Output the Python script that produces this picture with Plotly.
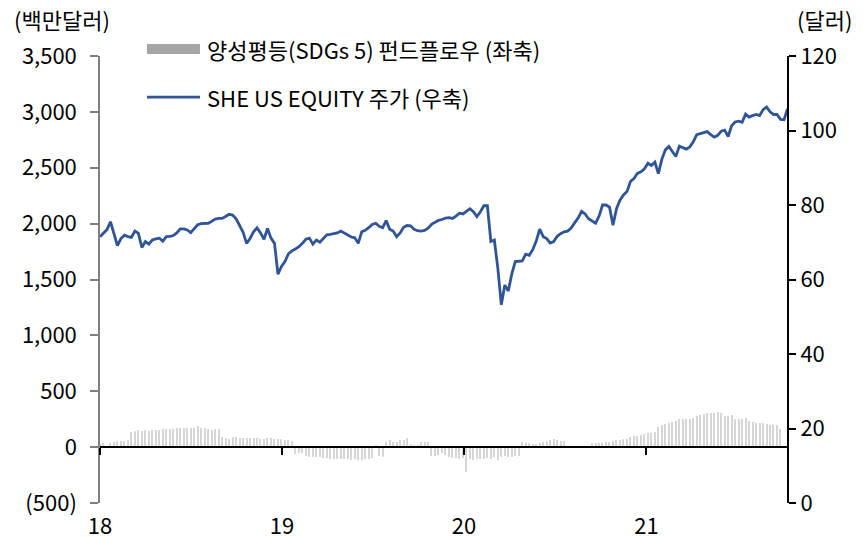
import pandas as pd
import plotly.graph_objects as go

# Weekly observations, Jan 2018 - Oct 2021
weeks = pd.date_range("2018-01-01", periods=198, freq="7D")

# Gender-equality (SDGs 5) fund flows, USD mn (left axis)
fund_flow = [
    24, 39, 0, 39, 45, 51, 54, 57, 60, 137,
    143, 149, 146, 149, 146, 149, 149, 155, 158, 164,
    164, 164, 167, 167, 170, 173, 173, 170, 188, 173,
    167, 158, 155, 158, 164, 90, 84, 75, 93, 90,
    84, 81, 81, 78, 78, 78, 75, 69, 78, 84,
    75, 69, 69, 63, 60, 57,
    -63, -57, -57, -75, -90, -90, -87, -90, -96, -101,
    -104, -107, -110, -110, -110, -110, -112, -110, -115, -119,
    -110, -104, -100, 18, -75, -84,
    43, 60, 50, 50, 67, 60, 83, 27, 20, 20, 50, 43, 43,
    -75, -75, -69, -57, -66, -87, -96, -101, -104, -96,
    -221, -110, -116, -110, -110, -104, -96, -104, -90, -116,
    -87, -81, -87, -87, -81, -81,
    45, 39, 33, 30, 24, 39, 45, 54, 60, 75, 60, 54, 54, 9,
    0, 0, 0, 0, 0, 0,
    39, 36, 39, 39, 45, 48, 54, 60, 66, 69,
    72, 93, 99, 104, 110, 116, 122, 128, 134, 182,
    194, 203, 212, 224, 233, 248, 254, 254, 254, 263,
    278, 284, 292, 301, 307, 307, 313, 307, 277, 277,
    284, 248, 254, 254, 257, 233, 224, 218, 218, 212,
    209, 194, 194, 194, 158,
    0, 0,
]

# SHE US Equity share price, USD (right axis)
she_price = [
    71.5, 72.4, 73.4, 75.5, 72.5, 69.1, 71.0, 71.9, 71.5, 71.3,
    73.0, 72.4, 68.6, 70.2, 69.5, 70.6, 70.9, 71.1, 70.3, 71.5,
    71.6, 71.8, 72.5, 73.6, 73.6, 73.3, 72.6, 73.8, 74.7, 75.0,
    75.1, 75.1, 75.6, 76.2, 76.4, 76.4, 76.9, 77.5, 77.3, 76.3,
    74.5, 72.7, 69.7, 71.0, 72.8, 73.9, 72.5, 70.8, 73.7, 71.1,
    69.7, 61.4, 63.5, 64.8, 66.9, 67.7, 68.2, 68.8, 69.7, 70.8,
    71.1, 69.5, 70.6, 70.0, 71.0, 72.0, 72.1, 72.2, 72.5, 73.0,
    72.4, 71.8, 71.4, 71.2, 69.7, 72.8, 73.2, 73.9, 74.8, 75.1,
    74.3, 73.9, 75.8, 73.5, 73.0, 71.5, 72.5, 74.0, 74.5, 74.4,
    73.5, 73.1, 73.0, 73.2, 73.8, 74.8, 75.4, 75.9, 76.1, 76.5,
    76.6, 76.4, 77.0, 77.8, 77.6, 78.3, 79.0, 78.2, 76.9, 78.2,
    79.8, 79.8, 70.2, 70.6, 63.0, 53.2, 58.5, 56.9, 61.5, 64.8,
    65.0, 65.0, 66.8, 66.5, 68.0, 70.3, 73.5, 71.5, 71.0, 69.8,
    70.2, 71.6, 72.3, 72.8, 73.0, 73.8, 75.2, 76.5, 78.3, 77.6,
    76.3, 75.6, 75.1, 77.0, 80.0, 80.0, 79.4, 74.6, 79.0, 81.3,
    82.7, 83.6, 86.3, 87.1, 88.5, 88.9, 89.7, 91.2, 90.6, 91.5,
    88.4, 92.3, 94.8, 95.7, 94.2, 93.0, 95.8, 95.3, 95.0, 95.6,
    97.0, 98.9, 99.2, 99.3, 99.7, 98.9, 98.2, 98.7, 99.8, 100.1,
    98.4, 101.3, 102.3, 102.5, 102.2, 104.4, 103.6, 104.0, 104.3, 104.0,
    105.6, 106.3, 105.0, 104.3, 104.3, 103.0, 102.9, 105.8,
]

left_ticks = [-500, 0, 500, 1000, 1500, 2000, 2500, 3000, 3500]
left_labels = ["(500)", "0", "500", "1,000", "1,500", "2,000", "2,500", "3,000", "3,500"]
year_ticks = ["2018-01-01", "2019-01-01", "2020-01-01", "2021-01-01"]
year_labels = ["18", "19", "20", "21"]

legend_bar = "양성평등(SDGs 5) 펀드플로우 (좌축)"
legend_line = "SHE US EQUITY 주가 (우축)"

FONT = "Noto Sans CJK KR, Noto Sans, sans-serif"
FS = 22
LINE_BLUE = "#2F5597"
BAR_GREY = "#d6d6d6"
SWATCH_GREY = "#a6a6a6"
x_range = ["2018-01-01", "2021-10-12"]

fig = go.Figure()

fig.add_trace(go.Bar(
    x=weeks, y=fund_flow, xaxis="x", yaxis="y",
    marker=dict(color=BAR_GREY, line=dict(width=0)),
    width=2.2 * 24 * 3600 * 1000,
    showlegend=False,
))

fig.add_trace(go.Scatter(
    x=weeks, y=she_price, xaxis="x2", yaxis="y2",
    mode="lines", line=dict(color=LINE_BLUE, width=2.8),
    showlegend=False,
))

# Legend drawn in paper space above the plot
fig.add_shape(type="rect", xref="paper", yref="paper",
              x0=0.0683, x1=0.1453, y0=1.0045, y1=1.0268,
              fillcolor=SWATCH_GREY, line=dict(width=0))
fig.add_shape(type="line", xref="paper", yref="paper",
              x0=0.0683, x1=0.1453, y0=0.908, y1=0.908,
              line=dict(color=LINE_BLUE, width=2.8))
fig.add_annotation(text=legend_bar, xref="paper", yref="paper",
                   x=0.1526, y=1.0157, xanchor="left", yanchor="middle",
                   showarrow=False, font=dict(size=FS, color="#000"))
fig.add_annotation(text=legend_line, xref="paper", yref="paper",
                   x=0.1526, y=0.908, xanchor="left", yanchor="middle",
                   showarrow=False, font=dict(size=FS, color="#000"))

# Axis unit captions
fig.add_annotation(text="(백만달러)", xref="paper", yref="paper",
                   x=-0.128, y=1.082, xanchor="left", yanchor="middle",
                   showarrow=False, font=dict(size=FS, color="#000"))
fig.add_annotation(text="(달러)", xref="paper", yref="paper",
                   x=1.01, y=1.082, xanchor="left", yanchor="middle",
                   showarrow=False, font=dict(size=FS, color="#000"))

fig.update_layout(
    width=864, height=539,
    margin=dict(l=100, r=76, t=56, b=36, autoexpand=False),
    paper_bgcolor="white", plot_bgcolor="white",
    font=dict(family=FONT, size=FS, color="#000"),
    bargap=0,
    xaxis=dict(
        type="date", range=x_range, domain=[0, 1],
        anchor="free", position=0.125, automargin=False,
        showline=True, linecolor="#000", linewidth=1.5,
        ticks="outside", ticklen=7, tickcolor="#000", tickwidth=1.5,
        tickvals=year_ticks, showticklabels=False,
        showgrid=False, zeroline=False,
    ),
    xaxis2=dict(
        type="date", range=x_range, overlaying="x", matches="x",
        anchor="y", side="bottom", automargin=False,
        showline=False, ticks="outside", ticklen=4,
        tickcolor="rgba(0,0,0,0)",
        tickvals=year_ticks, ticktext=year_labels,
        showgrid=False, zeroline=False,
    ),
    yaxis=dict(
        range=[-500, 3500], tickvals=left_ticks, ticktext=left_labels,
        showline=True, linecolor="#7f7f7f", linewidth=1.5,
        ticks="outside", ticklen=8, tickcolor="#7f7f7f", tickwidth=1.5,
        ticklabelstandoff=9,
        showgrid=False, zeroline=False, anchor="x", side="left",
        automargin=False,
    ),
    yaxis2=dict(
        range=[0, 120], dtick=20, tick0=0,
        overlaying="y", side="right", anchor="free", position=1,
        showline=True, linecolor="#000", linewidth=2,
        ticks="outside", ticklen=7, tickcolor="#000", tickwidth=2,
        showgrid=False, zeroline=False, automargin=False,
    ),
)

fig.write_html("out.html")
